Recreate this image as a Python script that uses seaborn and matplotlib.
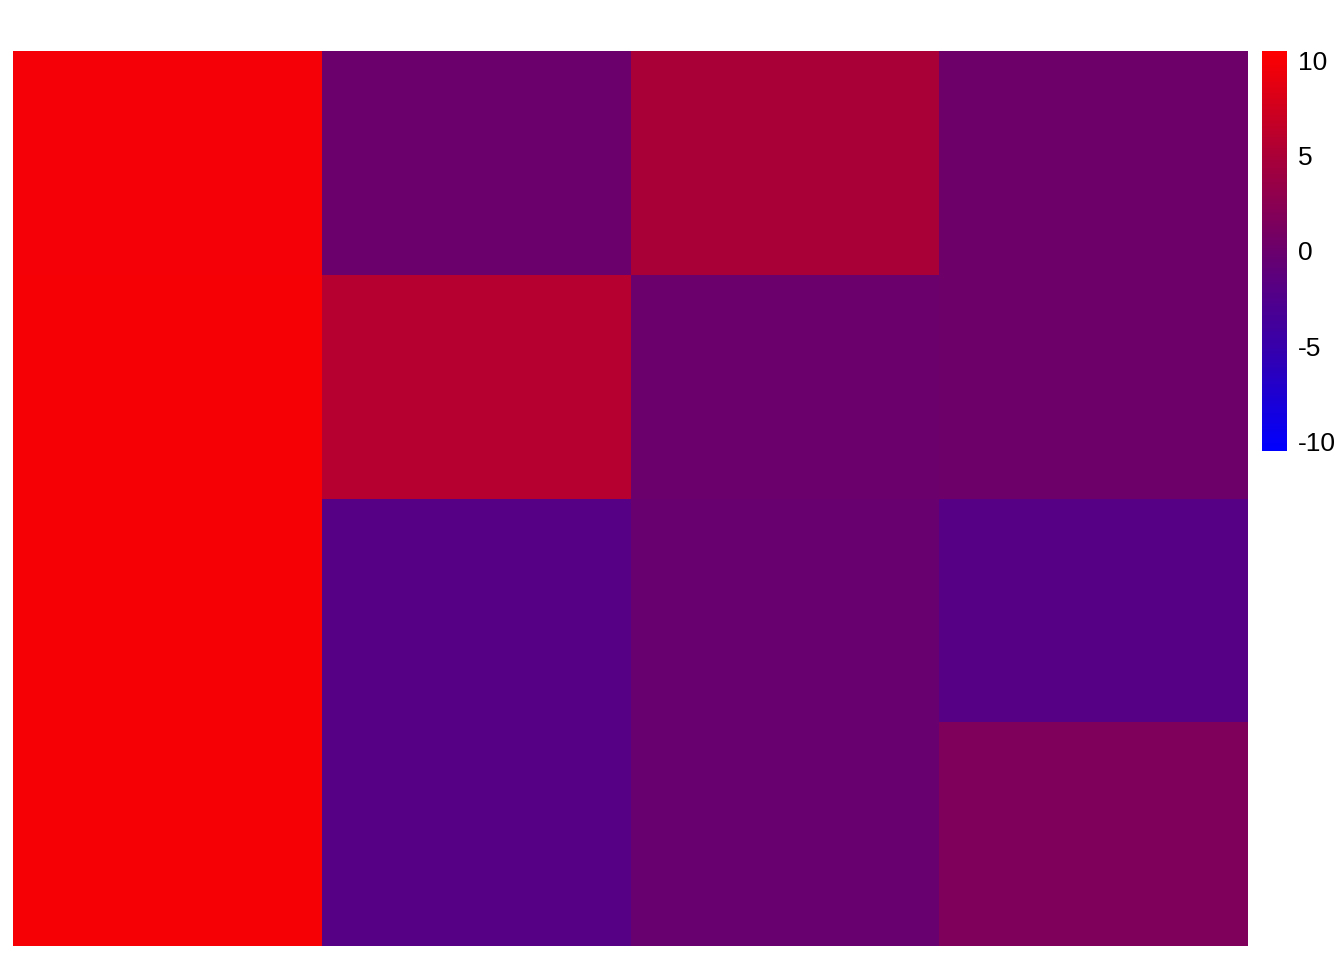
import numpy as np
import pandas as pd
import matplotlib
matplotlib.use('Agg')
import matplotlib.pyplot as plt
import seaborn as sns
from matplotlib.colors import LinearSegmentedColormap

# valores das células (linhas de cima para baixo)
row_labels = ["r1", "r2", "r3", "r4"]
col_labels = ["c1", "c2", "c3", "c4"]
row1 = [9.8, 0.0, 5.0, 0.3]
row2 = [9.9, 5.8, 0.0, 0.3]
row3 = [9.9, -2.0, -0.2, -2.0]
row4 = [9.9, -2.0, -0.2, 1.6]
cbar_ticks = [-10, -5, 0, 5, 10]

df = pd.DataFrame([row1, row2, row3, row4], index=row_labels, columns=col_labels)

# azul -> roxo escuro -> vermelho
cmap = LinearSegmentedColormap.from_list(
    "azul_vermelho",
    [(0.0, "#0000ff"), (0.25, "#3500ad"), (0.5, "#6a006c"),
     (0.75, "#ad0035"), (1.0, "#ff0000")])

sns.set_style("white")
plt.rcParams['font.family'] = ['Liberation Sans', 'DejaVu Sans']

fig = plt.figure(figsize=(13.44, 9.6), dpi=100)
ax = fig.add_axes([13 / 1344, 1 - 946 / 960, (1248 - 13) / 1344, (946 - 51) / 960])
cax = fig.add_axes([1262 / 1344, 1 - 451 / 960, 25 / 1344, 400 / 960])

sns.heatmap(df, ax=ax, cmap=cmap, vmin=-10.5, vmax=10.5, cbar_ax=cax,
            xticklabels=False, yticklabels=False,
            cbar_kws={"ticks": cbar_ticks})

cbar = ax.collections[0].colorbar
cbar.outline.set_visible(False)
cax.tick_params(length=0, labelsize=19, pad=8, labelcolor='black')
cax.set_yticklabels([str(t) for t in cbar_ticks])

fig.savefig("out.png", dpi=100, facecolor='white')
plt.close(fig)
